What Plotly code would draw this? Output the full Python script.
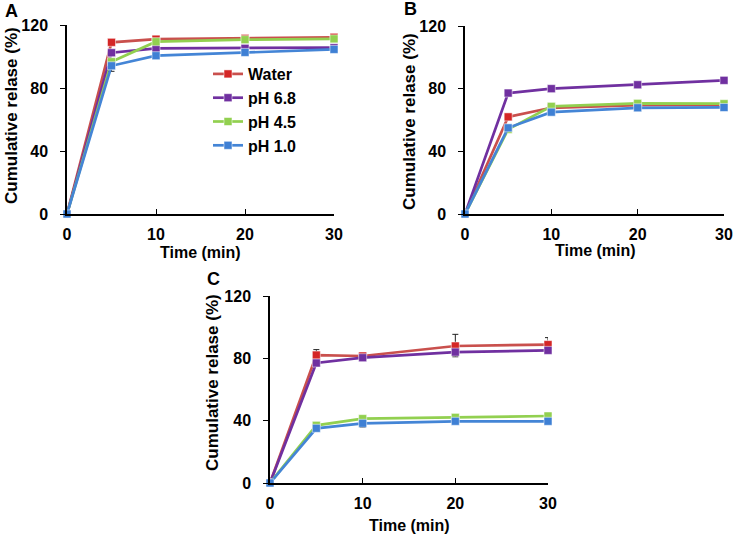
import plotly.graph_objects as go

# ---------------- data ----------------
time_min = [0, 5, 10, 20, 30]
series_names = ["Water", "pH 6.8", "pH 4.5", "pH 1.0"]

# Panel A
a_water = [0, 109.0, 111.0, 111.5, 112.2]
a_ph68 = [0, 102.4, 105.2, 105.2, 105.6]
a_ph45 = [0, 96.7, 109.4, 110.7, 111.2]
a_ph10 = [0, 94.1, 100.5, 102.6, 104.5]
a_err_plus = {"Water": [0, 0.8, 0.8, 0.8, 1.5], "pH 6.8": [0, 0.5, 0.5, 0.5, 0.5],
              "pH 4.5": [0, 0.5, 0.5, 0.5, 0.5], "pH 1.0": [0, 0.5, 0.5, 0.5, 0.5]}
a_err_minus = {"Water": [0, 0.5, 0.5, 0.5, 0.5], "pH 6.8": [0, 0.5, 0.5, 0.5, 0.5],
               "pH 4.5": [0, 0.5, 0.5, 0.5, 0.5], "pH 1.0": [0, 3.5, 0.8, 0.8, 0.8]}

# Panel B
b_water = [0, 62.0, 67.8, 69.5, 69.7]
b_ph68 = [0, 77.2, 80.0, 82.5, 85.3]
b_ph45 = [0, 54.0, 68.7, 70.6, 70.4]
b_ph10 = [0, 55.0, 65.0, 67.8, 68.0]
b_err_plus = {"Water": [0, 0.5, 0.5, 0.5, 0.5], "pH 6.8": [0, 0.5, 0.5, 0.5, 0.5],
              "pH 4.5": [0, 0.5, 0.5, 0.5, 0.5], "pH 1.0": [0, 0.5, 0.5, 0.5, 0.5]}
b_err_minus = b_err_plus

# Panel C
c_water = [0, 82.1, 81.5, 87.9, 88.8]
c_ph68 = [0, 77.0, 80.4, 84.0, 85.1]
c_ph45 = [0, 37.0, 41.3, 42.1, 43.0]
c_ph10 = [0, 35.1, 38.3, 39.6, 39.6]
c_err_plus = {"Water": [0, 3.5, 1.0, 7.5, 4.5], "pH 6.8": [0, 0.5, 0.5, 0.5, 0.5],
              "pH 4.5": [0, 0.5, 0.5, 0.5, 0.5], "pH 1.0": [0, 0.5, 0.5, 0.5, 0.5]}
c_err_minus = {"Water": [0, 0.5, 0.5, 0.5, 0.5], "pH 6.8": [0, 0.5, 0.5, 3.0, 0.5],
               "pH 4.5": [0, 0.5, 0.5, 0.5, 0.5], "pH 1.0": [0, 0.5, 2.5, 0.5, 0.5]}

x_ticks = [0, 10, 20, 30]
y_ticks = [0, 40, 80, 120]
panel_labels = ["A", "B", "C"]
x_title = "Time (min)"
y_title = "Cumulative relase (%)"

# ---------------- style ----------------
line_colors = {"Water": "#C9504D", "pH 6.8": "#7030A0", "pH 4.5": "#92D050", "pH 1.0": "#4485D6"}
marker_colors = {"Water": "#D42626", "pH 6.8": "#7030A0", "pH 4.5": "#92D050", "pH 1.0": "#3F80D4"}
FONT = "Arial, 'Liberation Sans', sans-serif"
W, H = 735, 536

def dom_x(a, b):
    return [a / W, b / W]

def dom_y(top, bottom):
    return [1 - bottom / H, 1 - top / H]

panels = [
    dict(data=[a_water, a_ph68, a_ph45, a_ph10], ep=a_err_plus, em=a_err_minus,
         xd=dom_x(67, 334), yd=dom_y(25, 214), legend=True),
    dict(data=[b_water, b_ph68, b_ph45, b_ph10], ep=b_err_plus, em=b_err_minus,
         xd=dom_x(465, 724), yd=dom_y(26, 214), legend=False),
    dict(data=[c_water, c_ph68, c_ph45, c_ph10], ep=c_err_plus, em=c_err_minus,
         xd=dom_x(270, 548), yd=dom_y(296, 483), legend=False),
]

fig = go.Figure()
layout = dict(
    template="none",
    width=W, height=H, margin=dict(l=0, r=0, t=0, b=0, autoexpand=False),
    paper_bgcolor="white", plot_bgcolor="white",
    font=dict(family=FONT, size=16, color="black"),
    showlegend=True,
    legend=dict(x=208 / W, y=1 - 57 / H, xanchor="left", yanchor="top",
                bgcolor="rgba(0,0,0,0)", font=dict(size=16, weight="bold", color="black"),
                tracegroupgap=0, itemwidth=30, borderwidth=0),
)

for i, p in enumerate(panels):
    ax = "" if i == 0 else str(i + 1)
    for name, vals in zip(series_names, p["data"]):
        fig.add_trace(go.Scatter(
            x=time_min, y=vals, name=name, legendgroup=name,
            showlegend=p["legend"], mode="lines+markers", cliponaxis=False,
            line=dict(color=line_colors[name], width=2.7),
            marker=dict(symbol="square", size=8, color=marker_colors[name],
                        line=dict(color="rgba(255,255,255,0.5)", width=1)),
            error_y=dict(type="data", symmetric=False, array=p["ep"][name],
                         arrayminus=p["em"][name], color="#222222", thickness=1, width=3),
            xaxis="x" + ax, yaxis="y" + ax,
        ))
    layout["xaxis" + ax] = dict(
        domain=p["xd"], anchor="y" + ax, range=[0, 30], tickvals=x_ticks, automargin=False,
        ticks="inside", ticklen=5, tickwidth=1.3, tickcolor="black",
        showline=True, linecolor="black", linewidth=1.5, showgrid=False, zeroline=False,
        tickfont=dict(size=16, weight="bold"), ticklabelstandoff=5,
    )
    layout["yaxis" + ax] = dict(
        domain=p["yd"], anchor="x" + ax, range=[0, 120], tickvals=y_ticks, automargin=False,
        ticks="outside", ticklen=5, tickwidth=1.3, tickcolor="black",
        showline=True, linecolor="black", linewidth=1.5, showgrid=False, zeroline=False,
        tickfont=dict(size=16, weight="bold"), ticklabelstandoff=9,
    )

annotations = []
# panel labels
for lab, (x, y) in zip(panel_labels, [(3, 11), (402, 9), (205, 279)]):
    annotations.append(dict(text=lab, x=x / W, y=1 - y / H, xref="paper", yref="paper",
                            xanchor="left", yanchor="middle", showarrow=False,
                            font=dict(size=18, weight="bold")))
# x titles
for (x, y) in [(200, 252), (595, 250), (409, 525)]:
    annotations.append(dict(text=x_title, x=x / W, y=1 - y / H, xref="paper", yref="paper",
                            xanchor="center", yanchor="middle", showarrow=False,
                            font=dict(size=16, weight="bold")))
# y titles
for (x, y) in [(12, 116), (409, 122), (212, 383)]:
    annotations.append(dict(text=y_title, x=x / W, y=1 - y / H, xref="paper", yref="paper",
                            xanchor="center", yanchor="middle", showarrow=False, textangle=-90,
                            font=dict(size=17, weight="bold")))
layout["annotations"] = annotations

fig.update_layout(**layout)
fig.write_html("out.html", config={"displayModeBar": False},
               post_script="document.body.style.margin='0';document.body.style.overflow='hidden';")
